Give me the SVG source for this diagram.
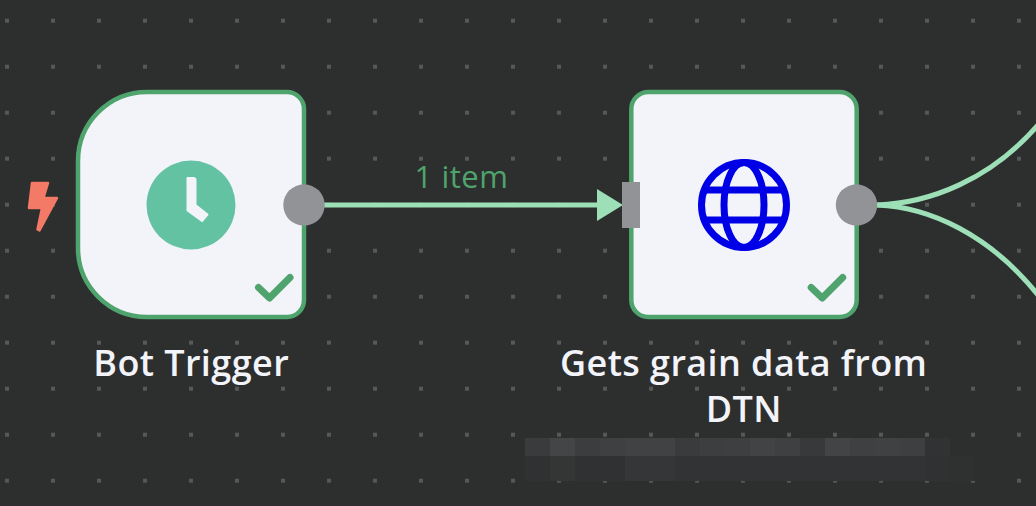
<svg xmlns="http://www.w3.org/2000/svg" width="1036" height="506" viewBox="0 0 1036 506">
<style>
.card{fill:#f2f4fa;stroke:#4fa36c;stroke-width:4.500}
.port{fill:#929397}
.edge{fill:none;stroke:#9ddfb6;stroke-width:5}
.check{fill:none;stroke:#4fa36c;stroke-width:7;stroke-linejoin:round;stroke-linecap:round}
.label{font-family:"Open Sans",sans-serif;font-size:36px;font-weight:600;letter-spacing:0.4px;fill:#f2f4fa;text-anchor:middle}
</style>
<defs>
<pattern id="dots" x="5" y="18.7" width="46" height="46" patternUnits="userSpaceOnUse"><rect width="4" height="4" fill="#565757"/></pattern>
<marker id="arrow" markerUnits="userSpaceOnUse" markerWidth="28" markerHeight="34" refX="13" refY="16" orient="auto"><path d="M0 0L26 16L0 32Z" fill="#9ddfb6"/></marker>
</defs>
<rect id="bg" width="1036" height="506" fill="#2d2e2e"/>
<rect id="grid" width="1036" height="506" fill="url(#dots)"/>
<g id="connectors">
<path class="edge" d="M324 205H610" marker-end="url(#arrow)"/>
<path class="edge" d="M877 205C930 203 990 180 1038 125"/>
<path class="edge" d="M877 205C930 207 990 235 1038 295"/>
<text x="461.500" y="188" font-family="'Open Sans',sans-serif" font-size="31" fill="#4fa36c" text-anchor="middle" letter-spacing="0.5">1 item</text>
</g>
<g id="node-bot-trigger">
<path class="card" d="M147 92H287A17 17 0 0 1 304 109V300A17 17 0 0 1 287 317H147A69 69 0 0 1 78 248V161A69 69 0 0 1 147 92Z"/>
<circle cx="191" cy="205" r="44.500" fill="#62c2a2"/>
<path d="M187.500 178H193A2 2 0 0 1 195.500 180V205L207.500 214.500L202 221L187.500 210.500Z" fill="#f2f4fa" stroke="#f2f4fa" stroke-width="2" stroke-linejoin="round"/>
<path class="check" d="M258.500 287.500L269.500 298L290 277.500"/>
<circle class="port" cx="304" cy="205" r="20.700"/>
<path d="M32 183H48L43.500 198H57L39.500 230.500L37.500 229.500L42 208H29Z" fill="#f37a66" stroke="#f37a66" stroke-width="2.500" stroke-linejoin="round"/>
<text class="label" x="191.200" y="376">Bot Trigger</text>
</g>
<g id="node-gets-grain-data">
<rect class="card" x="631.300" y="92" width="225.400" height="225" rx="17"/>
<g fill="none" stroke="#0000e6" stroke-width="7">
<circle cx="744" cy="205" r="42.500"/>
<ellipse cx="744" cy="205" rx="20" ry="42.500"/>
<path d="M704 190H784M704 220H784"/>
</g>
<path class="check" d="M811.200 287.500L822.200 298L842.700 277.500"/>
<rect class="port" x="622" y="182" width="18" height="46"/>
<circle class="port" cx="856.500" cy="205" r="20.700"/>
<text class="label" x="743.700" y="376">Gets grain data from</text>
<text class="label" x="743.700" y="422">DTN</text>
</g>
<g id="blur">
<rect x="525" y="456" width="450" height="25" fill="#2f3030"/><rect x="525" y="456" width="425" height="25" fill="#303132"/><rect x="550" y="456" width="25" height="25" fill="#343535"/><rect x="625" y="456" width="50" height="25" fill="#353638"/><rect x="675" y="456" width="250" height="25" fill="#323334"/>
<rect x="525" y="438" width="25" height="18" fill="#3a3b3c"/><rect x="550" y="438" width="25" height="18" fill="#444546"/><rect x="575" y="438" width="25" height="18" fill="#3c3d3e"/><rect x="600" y="438" width="25" height="18" fill="#3f4041"/><rect x="625" y="438" width="50" height="18" fill="#414243"/><rect x="675" y="438" width="25" height="18" fill="#3a3b3c"/><rect x="700" y="438" width="25" height="18" fill="#3d3e3f"/><rect x="725" y="438" width="25" height="18" fill="#3e3f40"/><rect x="750" y="438" width="25" height="18" fill="#424344"/><rect x="775" y="438" width="25" height="18" fill="#3f4041"/><rect x="800" y="438" width="25" height="18" fill="#38393a"/><rect x="825" y="438" width="25" height="18" fill="#434445"/><rect x="850" y="438" width="25" height="18" fill="#3f4041"/><rect x="875" y="438" width="25" height="18" fill="#404142"/><rect x="900" y="438" width="25" height="18" fill="#3e3f40"/><rect x="925" y="438" width="25" height="18" fill="#313234"/>
</g>
</svg>
